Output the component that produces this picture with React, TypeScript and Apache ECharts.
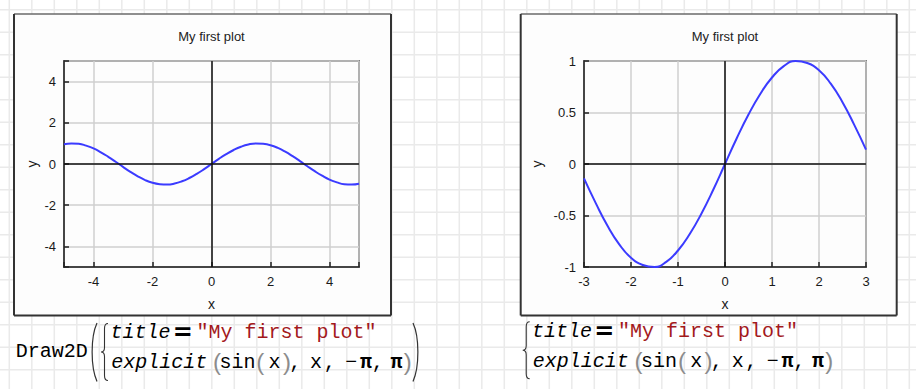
import React, { useEffect, useRef } from 'react';
import * as echarts from 'echarts';

// ---- data ----
const titleText = 'My first plot';
const xName = 'x';
const yName = 'y';

const xLeft = [-5, -4.75, -4.5, -4.25, -4, -3.75, -3.5, -3.25, -3, -2.75, -2.5, -2.25, -2, -1.75, -1.5, -1.25, -1, -0.75, -0.5, -0.25, 0,
  0.25, 0.5, 0.75, 1, 1.25, 1.5, 1.75, 2, 2.25, 2.5, 2.75, 3, 3.25, 3.5, 3.75, 4, 4.25, 4.5, 4.75, 5];
const yLeft = [0.96, 1.0, 0.98, 0.89, 0.76, 0.57, 0.35, 0.11, -0.14, -0.38, -0.6, -0.78, -0.91, -0.98, -1.0, -0.95, -0.84, -0.68, -0.48, -0.25, 0,
  0.25, 0.48, 0.68, 0.84, 0.95, 1.0, 0.98, 0.91, 0.78, 0.6, 0.38, 0.14, -0.11, -0.35, -0.57, -0.76, -0.89, -0.98, -1.0, -0.96];

const xRight = [-3, -2.75, -2.5, -2.25, -2, -1.75, -1.5, -1.25, -1, -0.75, -0.5, -0.25, 0, 0.25, 0.5, 0.75, 1, 1.25, 1.5, 1.75, 2, 2.25, 2.5, 2.75, 3];
const yRight = [-0.14, -0.38, -0.6, -0.78, -0.91, -0.98, -1.0, -0.95, -0.84, -0.68, -0.48, -0.25, 0, 0.25, 0.48, 0.68, 0.84, 0.95, 1.0, 0.98, 0.91, 0.78, 0.6, 0.38, 0.14];

const formulaHead = 'Draw2D';
const formulaLine1 = ['title', '=', '"My first plot"'];
const formulaLine2 = ['explicit', '(', 'sin', '(', 'x', ')', ',', 'x', ',', '\u2212', '\u03c0', ',', '\u03c0', ')'];

// ---- layout / style ----
const W = 916;
const H = 389;
const line1Off = [28.7, 71.1, 174.8];
const line1Kind = ['it', 'eq', 'str'];
const line2Off = [47.5, 105.3, 125.8, 148.6, 162.9, 175.2, 183.5, 204.4, 218, 239.5, 254.3, 266, 284.8, 296];
const line2Kind = ['it', 'par', 'mono', 'par', 'mono', 'par', 'mono', 'mono', 'mono', 'mono', 'bold', 'mono', 'bold', 'par'];

const MONO = '"Liberation Mono", "Courier New", monospace';
const SANS = '"Liberation Sans", Arial, sans-serif';

function styleFor(kind: string) {
  switch (kind) {
    case 'it': return { fontFamily: MONO, fontSize: 20, fontStyle: 'italic', fill: '#000' };
    case 'eq': return { fontFamily: '"DejaVu Sans", sans-serif', fontSize: 24, fontWeight: 'bold', fill: '#000' };
    case 'str': return { fontFamily: MONO, fontSize: 20, fill: '#a3191c' };
    case 'par': return { fontFamily: SANS, fontSize: 24, fill: '#8c8c8c' };
    case 'bold': return { fontFamily: MONO, fontSize: 20, fontWeight: 'bold', fill: '#000' };
    default: return { fontFamily: MONO, fontSize: 20, fill: '#000' };
  }
}

function formulaElements(x0: number, y1: number, y2: number) {
  const els: any[] = [];
  formulaLine1.forEach((t, i) => {
    els.push({ type: 'text', x: x0 + line1Off[i], y: y1, z: 5, style: { text: t, align: 'center', verticalAlign: 'middle', ...styleFor(line1Kind[i]) } });
  });
  formulaLine2.forEach((t, i) => {
    els.push({ type: 'text', x: x0 + line2Off[i], y: line2Kind[i] === 'par' ? y2 - 1 : y2, z: 5, style: { text: t, align: 'center', verticalAlign: 'middle', ...styleFor(line2Kind[i]) } });
  });
  return els;
}

function bgGrid() {
  const els: any[] = [];
  for (let x = 9.3; x < W; x += 22.5) {
    els.push({ type: 'line', z: -30, silent: true, shape: { x1: x, y1: 0, x2: x, y2: H }, style: { stroke: '#eaeaea', lineWidth: 1.5 } });
  }
  for (let y = 9.8; y < H; y += 22.5) {
    els.push({ type: 'line', z: -30, silent: true, shape: { x1: 0, y1: y, x2: W, y2: y }, style: { stroke: '#eaeaea', lineWidth: 1.5 } });
  }
  return els;
}

function frame(x1: number, y1: number, x2: number, y2: number) {
  return [
    { type: 'rect', z: -20, silent: true, shape: { x: x1, y: y1, width: x2 - x1, height: y2 - y1 }, style: { fill: '#fdfdfd' } },
    { type: 'line', z: -19, silent: true, shape: { x1, y1, x2, y2: y1 }, style: { stroke: '#6a6a6a', lineWidth: 1.5 } },
    { type: 'line', z: -19, silent: true, shape: { x1, y1, x2: x1, y2 }, style: { stroke: '#333', lineWidth: 2 } },
    { type: 'line', z: -19, silent: true, shape: { x1: x2, y1, x2, y2 }, style: { stroke: '#333', lineWidth: 2 } },
    { type: 'line', z: -19, silent: true, shape: { x1, y1: y2, x2, y2 }, style: { stroke: '#333', lineWidth: 2 } },
  ];
}

const tickLabel = { color: '#1a1a1a', fontSize: 13, fontFamily: SANS, margin: 8 };
const nameStyle = { color: '#1a1a1a', fontSize: 14, fontFamily: SANS };
const edgeLine = { show: true, onZero: false, lineStyle: { color: '#222', width: 1.5 } };
const tick = { show: true, inside: true, length: 5, lineStyle: { color: '#222', width: 1.5 } };
const split = { show: true, lineStyle: { color: '#cfcfcf', width: 1.5 } };

function makeAxis(gridIndex: number, min: number, max: number, step: number, name: string, nameGap: number, isY: boolean) {
  const ax: any = {
    gridIndex, type: 'value', min, max,
    name, nameLocation: 'middle', nameGap, nameTextStyle: nameStyle,
    axisLine: edgeLine, axisTick: tick, splitLine: split,
    axisLabel: {
      ...tickLabel,
      formatter: (v: number) => (Math.abs(Math.round(v / step) * step - v) < 1e-9 ? String(v) : ''),
    },
  };
  if (isY) ax.nameRotate = 90;
  if (min % step === 0) ax.interval = step; else ax.splitNumber = Math.round((max - min) / step);
  return ax;
}

const zeroLines = {
  silent: true,
  symbol: ['none', 'none'],
  label: { show: false },
  lineStyle: { color: '#111', width: 1.5, type: 'solid' },
  data: [{ xAxis: 0 }, { yAxis: 0 }],
};

export default function App() {
  const ref = useRef<HTMLDivElement>(null);
  useEffect(() => {
    if (!ref.current) return;
    echarts.graphic.registerShape(
      'brace',
      echarts.graphic.extendPath('M7 0 Q3.5 0 3.5 5 L3.5 24 Q3.5 28.5 0 28.5 Q3.5 28.5 3.5 33 L3.5 52 Q3.5 57 7 57', {})
    );
    const chart = echarts.init(ref.current, null, { renderer: 'svg' });
    const titleStyle = { fontSize: 13, fontWeight: 'normal', color: '#222', fontFamily: SANS };
    const graphics: any[] = [
      ...bgGrid(),
      ...frame(14, 14, 391, 315.5),
      ...frame(520.7, 14, 896.7, 315.5),
      { type: 'text', x: 51.8, y: 351, z: 5, style: { text: formulaHead, align: 'center', verticalAlign: 'middle', fontFamily: MONO, fontSize: 20, fill: '#000' } },
      { type: 'bezierCurve', z: 5, shape: { x1: 97, y1: 323, x2: 97, y2: 381.5, cpx1: 90.5, cpy1: 337, cpx2: 90.5, cpy2: 367 }, style: { stroke: '#333', lineWidth: 1.2, fill: null } },
      { type: 'bezierCurve', z: 5, shape: { x1: 413, y1: 323, x2: 413, y2: 381.5, cpx1: 419.5, cpy1: 337, cpx2: 419.5, cpy2: 367 }, style: { stroke: '#333', lineWidth: 1.2, fill: null } },
      { type: 'brace', x: 101, y: 323.5, z: 5, style: { stroke: '#333', lineWidth: 1.1, fill: null } },
      { type: 'brace', x: 522.7, y: 321.7, z: 5, style: { stroke: '#333', lineWidth: 1.1, fill: null } },
      ...formulaElements(111.7, 332, 362),
      ...formulaElements(533.3, 331, 361),
    ];
    const option: any = {
      animation: false,
      backgroundColor: '#ffffff',
      title: [
        { text: titleText, left: 211.5, top: 30, textAlign: 'center', padding: 0, textStyle: titleStyle },
        { text: titleText, left: 725, top: 30, textAlign: 'center', padding: 0, textStyle: titleStyle },
      ],
      grid: [
        { left: 64, top: 61, width: 295, height: 206, show: true, borderColor: '#222', borderWidth: 1.5, backgroundColor: '#fdfdfd', containLabel: false },
        { left: 584, top: 61, width: 282, height: 206, show: true, borderColor: '#222', borderWidth: 1.5, backgroundColor: '#fdfdfd', containLabel: false },
      ],
      xAxis: [
        makeAxis(0, -5, 5, 2, xName, 30, false),
        makeAxis(1, -3, 3, 1, xName, 30, false),
      ],
      yAxis: [
        makeAxis(0, -5, 5, 2, yName, 25, true),
        makeAxis(1, -1, 1, 0.5, yName, 40, true),
      ],
      graphic: graphics,
      series: [
        {
          type: 'line', xAxisIndex: 0, yAxisIndex: 0, silent: true, showSymbol: false, smooth: true,
          data: xLeft.map((x, i) => [x, yLeft[i]]),
          lineStyle: { color: '#3b3bff', width: 2 }, markLine: zeroLines, z: 3,
        },
        {
          type: 'line', xAxisIndex: 1, yAxisIndex: 1, silent: true, showSymbol: false, smooth: true,
          data: xRight.map((x, i) => [x, yRight[i]]),
          lineStyle: { color: '#3b3bff', width: 2 }, markLine: zeroLines, z: 3,
        },
      ],
    };
    chart.setOption(option);
    return () => chart.dispose();
  }, []);
  return <div ref={ref} style={{ position: 'absolute', left: 0, top: 0, width: W, height: H }} />;
}
